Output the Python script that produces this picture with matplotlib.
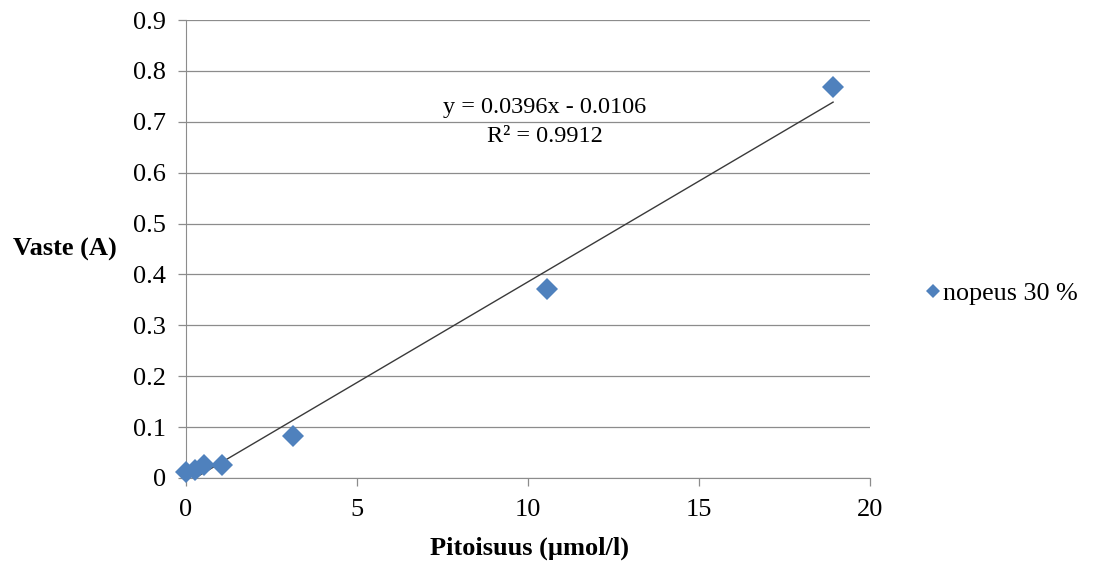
import matplotlib.pyplot as plt
import numpy as np

plt.rcParams['font.family'] = ['Liberation Serif', 'DejaVu Serif']

# data
pitoisuus = [0.0, 0.26, 0.52, 1.05, 3.13, 10.56, 18.92]
vaste = [0.012, 0.015, 0.025, 0.026, 0.082, 0.371, 0.768]
slope = 0.0396
intercept = -0.0106

fig = plt.figure(figsize=(10.93, 5.64), dpi=100)
ax = fig.add_axes([0.170, 0.1525, 0.626, 0.812])

xfit = np.array([0.0, max(pitoisuus)])
ax.plot(xfit, slope * xfit + intercept, color='#3a3a3a', lw=1.0, zorder=3)
ax.plot(pitoisuus, vaste, 'D', color='#4F81BD', ms=11.5, mew=0,
        label='nopeus 30 %', zorder=4, clip_on=False)

ax.set_xlim(0, 20)
ax.set_ylim(0, 0.9)
ax.set_xticks([0, 5, 10, 15, 20])
ax.set_yticks(np.arange(0, 0.91, 0.1))
ax.set_yticklabels(['0', '0.1', '0.2', '0.3', '0.4', '0.5', '0.6', '0.7', '0.8', '0.9'])
ax.yaxis.grid(True, color='#8c8c8c', lw=0.9)
ax.set_axisbelow(True)
for s in ['top', 'right']:
    ax.spines[s].set_visible(False)
for s in ['left', 'bottom']:
    ax.spines[s].set_color('#8c8c8c')
ax.tick_params(labelsize=19, color='#8c8c8c', length=6, width=0.9)
ax.tick_params(axis='y', pad=8)
ax.tick_params(axis='x', pad=9)

ax.text(10.5, 0.70, 'y = 0.0396x - 0.0106\nR² = 0.9912', ha='center', va='center',
        fontsize=17.5, linespacing=1.5)

fig.text(0.0595, 0.557, 'Vaste (A)', fontsize=19, fontweight='bold', ha='center', va='center')
fig.text(0.484, 0.028, 'Pitoisuus (µmol/l)', fontsize=19, fontweight='bold', ha='center', va='center')

fig.legend(loc='center left', bbox_to_anchor=(0.826, 0.48), frameon=False,
           fontsize=18.8, markerscale=0.6, handlelength=0.5, handletextpad=0.12)

plt.savefig('out.png')
